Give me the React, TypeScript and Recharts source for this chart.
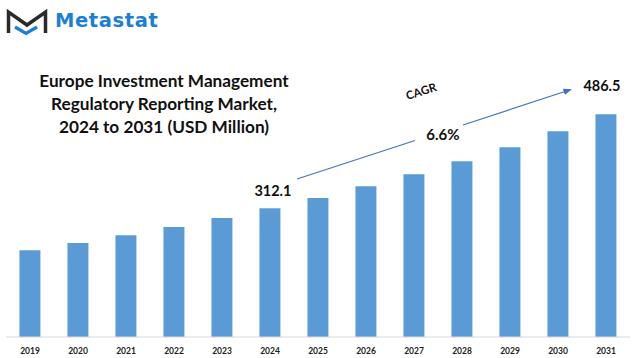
import { BarChart, Bar, XAxis, YAxis, LabelList } from "recharts";

const years = ["2019", "2020", "2021", "2022", "2023", "2024", "2025", "2026", "2027", "2028", "2029", "2030", "2031"];
const marketSize = [234.2, 247.2, 262.0, 276.9, 293.6, 312.1, 330.7, 352.9, 375.2, 399.3, 425.3, 455.0, 486.5];
const labelledYears = ["2024", "2031"];
const cagrText = "6.6%";

const titleLines = [
  "Europe Investment Management",
  "Regulatory Reporting Market,",
  "2024 to 2031 (USD Million)",
];

const chartData = years.map((year, i) => ({ year, value: marketSize[i] }));

const FONT = "Lato, 'Open Sans', sans-serif";

function ValueLabel(props: any) {
  const { x, y, width, value, index } = props;
  if (!labelledYears.includes(years[index])) return null;
  const last = index === years.length - 1;
  const cx = x + width / 2 + (last ? -4 : 3);
  const cy = y - (last ? 29 : 18);
  return (
    <text
      x={cx}
      y={cy}
      textAnchor="middle"
      dominantBaseline="central"
      fontFamily={FONT}
      fontWeight={700}
      fontSize={14.5}
      fill="#111"
    >
      {value}
    </text>
  );
}

function Logo() {
  return (
    <div style={{ position: "absolute", left: 0, top: 0, width: 200, height: 45 }}>
      <svg width={50} height={45} style={{ position: "absolute", left: 0, top: 0 }}>
        <polyline
          points="8.5,33 8.5,12 27,25 45.5,12 45.5,33"
          fill="none"
          stroke="#2a2a2a"
          strokeWidth={3.5}
          strokeLinejoin="miter"
        />
        <polyline
          points="15,27 26,33.5 37,27"
          fill="none"
          stroke="#1c7fd6"
          strokeWidth={3.2}
        />
      </svg>
      <div
        style={{
          position: "absolute",
          left: 55,
          top: 8,
          fontFamily: "'DejaVu Sans', sans-serif",
          fontWeight: 700,
          fontSize: 19.5,
          letterSpacing: 0.6,
          color: "#1c7fd6",
          lineHeight: "26px",
        }}
      >
        Metastat
      </div>
    </div>
  );
}

export default function App() {
  return (
    <div style={{ position: "absolute", left: 0, top: 0, width: 634, height: 358, background: "#fff", overflow: "hidden" }}>
      <BarChart
        width={634}
        height={358}
        data={chartData}
        margin={{ top: 60, right: 4, left: 6, bottom: 0 }}
        barCategoryGap="28%"
      >
        <XAxis
          dataKey="year"
          height={21}
          tickLine={false}
          tickMargin={5}
          axisLine={{ stroke: "#d9d9d9", strokeWidth: 1 }}
          tick={{ fontFamily: FONT, fontWeight: 700, fontSize: 8.5, fill: "#222" }}
          interval={0}
        />
        <YAxis hide domain={[73, 587]} />
        <Bar dataKey="value" fill="#5b9bd5" isAnimationActive={false}>
          <LabelList dataKey="value" content={ValueLabel} />
        </Bar>
      </BarChart>

      <Logo />

      <div
        style={{
          position: "absolute",
          left: 3,
          top: 69,
          width: 322,
          textAlign: "center",
          fontFamily: FONT,
          fontWeight: 700,
          fontSize: 17.2,
          lineHeight: "23px",
          color: "#111",
        }}
      >
        {titleLines.map((line) => (
          <div key={line}>{line}</div>
        ))}
      </div>

      <svg width={634} height={358} style={{ position: "absolute", left: 0, top: 0, pointerEvents: "none" }}>
        <defs>
          <marker id="arrowHead" viewBox="0 0 10 10" refX="9" refY="5" markerWidth="7" markerHeight="7" orient="auto">
            <path d="M0,1 L10,5 L0,9 z" fill="#4472c4" />
          </marker>
        </defs>
        <line x1={297} y1={179} x2={415} y2={140.5} stroke="#4472c4" strokeWidth={1.2} />
        <line x1={463} y1={125} x2={571} y2={89.5} stroke="#4472c4" strokeWidth={1.2} markerEnd="url(#arrowHead)" />
        <text
          x={421}
          y={91}
          textAnchor="middle"
          dominantBaseline="central"
          transform="rotate(-18 421 91)"
          fontFamily={FONT}
          fontWeight={700}
          fontSize={11.5}
          fill="#111"
        >
          CAGR
        </text>
        <text
          x={443}
          y={134}
          textAnchor="middle"
          dominantBaseline="central"
          fontFamily={FONT}
          fontWeight={700}
          fontSize={15}
          fill="#111"
        >
          {cagrText}
        </text>
      </svg>
    </div>
  );
}
